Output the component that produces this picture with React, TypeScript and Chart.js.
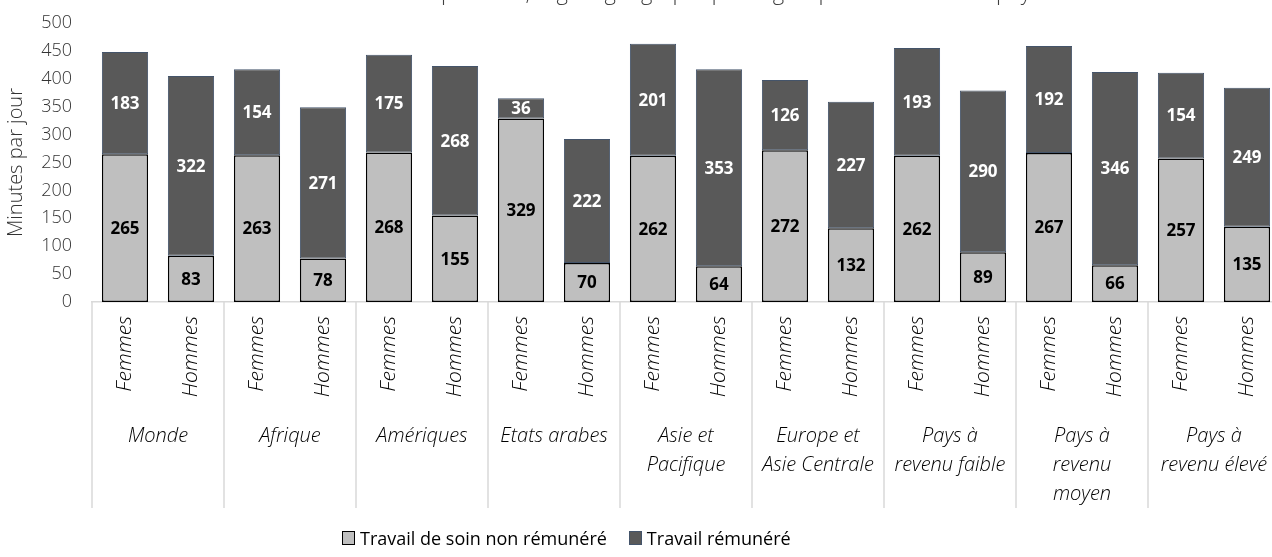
import React, { useEffect, useRef } from 'react';
import { Chart, registerables } from 'chart.js';

Chart.register(...registerables);

const regions: string[][] = [
  ['Monde'],
  ['Afrique'],
  ['Amériques'],
  ['Etats arabes'],
  ['Asie et', 'Pacifique'],
  ['Europe et', 'Asie Centrale'],
  ['Pays à', 'revenu faible'],
  ['Pays à', 'revenu', 'moyen'],
  ['Pays à', 'revenu élevé'],
];
const sexes = ['Femmes', 'Hommes'];
const unpaidCare = [265, 83, 263, 78, 268, 155, 329, 70, 262, 64, 272, 132, 262, 89, 267, 66, 257, 135];
const paidWork = [183, 322, 154, 271, 175, 268, 36, 222, 201, 353, 126, 227, 193, 290, 192, 346, 154, 249];
const seriesNames = ['Travail de soin non rémunéré', 'Travail rémunéré'];
const seriesFill = ['#bfbfbf', '#595959'];
const seriesBorder = ['#000000', '#44546a'];
const labelColors = ['#000000', '#ffffff'];
const yAxisTitle = 'Minutes par jour';
const yMax = 500;
const yStep = 50;
const titleTail = 'par sexe, région géographique et groupe de revenu des pays';

const categories: string[] = [];
regions.forEach(() => sexes.forEach((s) => categories.push(s)));

const FONT = '"Open Sans", sans-serif';
const CANVAS_W = 1300;
const CANVAS_H = 557;

const titlePlugin = {
  id: 'cutTitle',
  afterDraw(chart: any) {
    const ctx = chart.ctx;
    ctx.save();
    ctx.font = `300 22px ${FONT}`;
    ctx.fillStyle = '#404040';
    ctx.textAlign = 'left';
    ctx.textBaseline = 'alphabetic';
    ctx.fillText(titleTail, 441, 0);
    ctx.restore();
  },
};

const valueLabels = {
  id: 'valueLabels',
  afterDatasetsDraw(chart: any) {
    const ctx = chart.ctx;
    ctx.save();
    ctx.font = `bold 17px ${FONT}`;
    ctx.textAlign = 'center';
    ctx.textBaseline = 'middle';
    chart.data.datasets.forEach((ds: any, di: number) => {
      const meta = chart.getDatasetMeta(di);
      meta.data.forEach((el: any, i: number) => {
        ctx.fillStyle = labelColors[di];
        ctx.fillText(String(ds.data[i]), el.x, (el.y + el.base) / 2 + 1);
      });
    });
    ctx.restore();
  },
};

const groupAxis = {
  id: 'groupAxis',
  afterDraw(chart: any) {
    const xs = chart.scales.x;
    const ctx = chart.ctx;
    const per = sexes.length;
    const slot = xs.getPixelForValue(1) - xs.getPixelForValue(0);
    const top = xs.top;
    const bottom = xs.top + 206;
    ctx.save();
    ctx.strokeStyle = '#d9d9d9';
    ctx.lineWidth = 1.5;
    for (let g = 0; g <= regions.length; g++) {
      const px = xs.getPixelForValue(g * per) - slot / 2;
      ctx.beginPath();
      ctx.moveTo(px, top);
      ctx.lineTo(px, bottom);
      ctx.stroke();
    }
    ctx.font = `italic 300 20px ${FONT}`;
    ctx.fillStyle = '#000000';
    ctx.textAlign = 'center';
    ctx.textBaseline = 'middle';
    regions.forEach((lines, g) => {
      const cx = (xs.getPixelForValue(g * per) + xs.getPixelForValue(g * per + per - 1)) / 2;
      lines.forEach((ln, k) => {
        ctx.fillText(ln, cx, top + 134 + k * 29);
      });
    });
    ctx.restore();
  },
};

function App() {
  const ref = useRef<HTMLCanvasElement | null>(null);

  useEffect(() => {
    if (!ref.current) return;
    const chart = new Chart(ref.current, {
      type: 'bar',
      data: {
        labels: categories,
        datasets: [
          {
            label: seriesNames[0],
            data: unpaidCare,
            backgroundColor: seriesFill[0],
            borderColor: seriesBorder[0],
            borderWidth: 1.5,
            borderSkipped: false,
            barPercentage: 0.7,
            categoryPercentage: 1,
          },
          {
            label: seriesNames[1],
            data: paidWork,
            backgroundColor: seriesFill[1],
            borderColor: seriesBorder[1],
            borderWidth: 1,
            borderSkipped: false,
            barPercentage: 0.7,
            categoryPercentage: 1,
          },
        ],
      },
      options: {
        animation: false,
        responsive: false,
        maintainAspectRatio: false,
        devicePixelRatio: 1,
        layout: { padding: { top: 23, right: 20, left: 0, bottom: 0 } },
        plugins: {
          legend: { display: false },
          tooltip: { enabled: false },
          title: { display: false },
        },
        scales: {
          x: {
            stacked: true,
            grid: { display: false, drawTicks: false },
            border: { display: true, color: '#d9d9d9', width: 1.5 },
            ticks: {
              autoSkip: false,
              minRotation: 90,
              maxRotation: 90,
              padding: 14,
              color: '#000000',
              font: { family: FONT, size: 21, style: 'italic', weight: '300' },
            },
            afterFit(scale: any) {
              scale.height = 255;
            },
          },
          y: {
            stacked: true,
            min: 0,
            max: yMax,
            grid: { display: false, drawTicks: false },
            border: { display: false },
            ticks: {
              stepSize: yStep,
              padding: 20,
              color: '#333333',
              font: { family: FONT, size: 18, weight: '300' },
            },
            title: {
              display: true,
              text: yAxisTitle,
              color: '#333333',
              padding: { top: 4, bottom: 0 },
              font: { family: FONT, size: 20, weight: '300' },
            },
            afterFit(scale: any) {
              scale.width = 92;
              scale.paddingTop = 10;
              scale.paddingBottom = 10;
            },
          },
        },
      },
      plugins: [titlePlugin, valueLabels, groupAxis],
    });
    return () => chart.destroy();
  }, []);

  return (
    <div style={{ position: 'fixed', left: 0, top: 0, width: 1272, height: 557, overflow: 'hidden', background: '#fff' }}>
      <canvas
        ref={ref}
        width={CANVAS_W}
        height={CANVAS_H}
        style={{ position: 'absolute', left: 0, top: 0, width: CANVAS_W, height: CANVAS_H, display: 'block' }}
      />
      <div
        style={{
          position: 'absolute',
          left: 342,
          top: 527,
          display: 'flex',
          alignItems: 'center',
          fontFamily: FONT,
          fontSize: 18,
          color: '#000',
          lineHeight: '22px',
        }}
      >
        {seriesNames.map((name, i) => (
          <div key={name} style={{ display: 'flex', alignItems: 'center', marginRight: i === 0 ? 22 : 0 }}>
            <span
              style={{
                display: 'inline-block',
                width: 11,
                height: 12,
                background: seriesFill[i],
                border: `1px solid ${seriesBorder[i]}`,
                marginRight: 5,
              }}
            />
            <span>{name}</span>
          </div>
        ))}
      </div>
    </div>
  );
}

export default App;
